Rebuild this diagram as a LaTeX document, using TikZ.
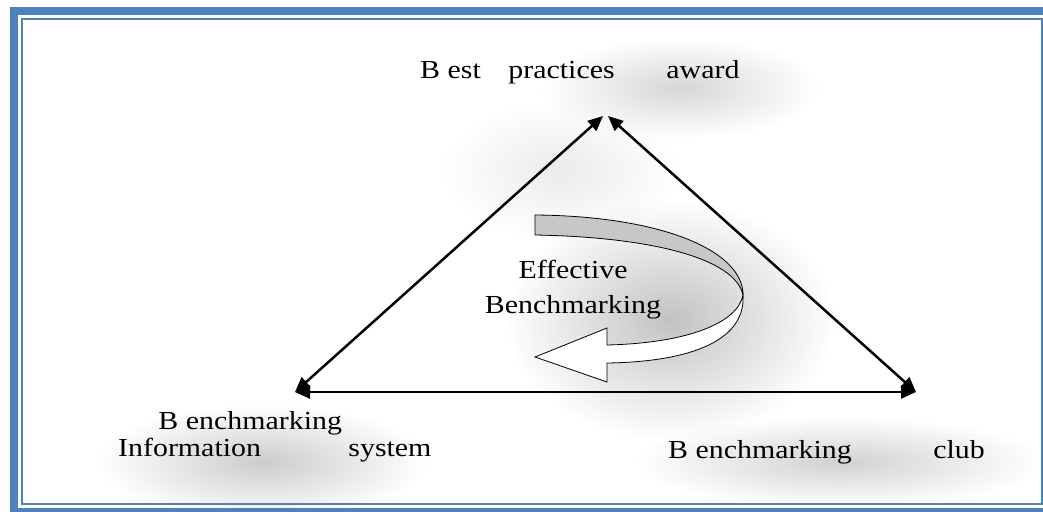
\documentclass[tikz,border=0pt]{standalone}
\usepackage{fontspec}
\setmainfont{Liberation Serif}
\usetikzlibrary{arrows.meta,fadings}
\definecolor{frameblue}{RGB}{79,129,189}
\tikzfading[name=softglow, inner color=transparent!0, outer color=transparent!100]
\newcommand{\wide}[1]{\scalebox{1.15}[1]{#1}}

\begin{document}
\begin{tikzpicture}[x=1pt,y=-1pt,
	>={Triangle[length=15pt,width=13pt]},
	txt/.style={inner sep=0pt, font=\fontsize{26}{27}\selectfont},
	glow/.style={fill=black, fill opacity=#1, path fading=softglow},
	glow/.default=0.16,
	side/.style={line width=2.5pt}]
			\useasboundingbox (0,0) rectangle (1043,511);
			\clip (0,0) rectangle (1043,511);

			% soft shadows
			\fill[glow] (680,88) ellipse [x radius=140, y radius=50];
			\fill[glow=0.24] (670,320) ellipse [x radius=165, y radius=120];
			\fill[glow=0.08] (560,170) ellipse [x radius=120, y radius=70];
			\fill[glow=0.2] (262,462) ellipse [x radius=165, y radius=58];
			\fill[glow=0.18] (840,462) ellipse [x radius=205, y radius=45];

			% frame
			\draw[frameblue, line width=8pt] (14,11) rectangle (1060,512);
			\draw[frameblue, line width=2pt] (22,19) rectangle (1041.5,504);

			\coordinate (topL) at (603,116);
			\coordinate (topR) at (608,116);
			\coordinate (botL) at (295,392);
			\coordinate (botR) at (916,392);

			\node (award) [txt, anchor=base west] at (420,78) {\wide{B est\hspace{24pt}practices\hspace{45pt}award}};
			\node (info) [txt, anchor=north west, align=left] at (118,411) {\wide{\hspace*{35pt}B enchmarking}\\\wide{Information\hspace{76pt}system}};
			\node (club) [txt, anchor=base west] at (668,458) {\wide{B enchmarking\hspace{71pt}club}};
			\node (eff) [txt, anchor=base] at (573,278) {\wide{Effective}};
			\node (bench) [txt, anchor=base] at (573,313) {\wide{Benchmarking}};

			\path (topL) edge [ side, <-> ] (botL);
			\path (topR) edge [ side, <-> ] (botR);
			\path (botL) edge [ side, <-> ] (botR);

			% curved arrow
			\draw[fill=black!22, line width=0.8pt] (535,215) .. controls (660,216) and (743,250) .. (743,295)
				.. controls (735,258) and (650,237) .. (535,235) -- cycle;
			\draw[fill=white, line width=0.8pt] (743,295) .. controls (746,345) and (680,362) .. (607,363)
				-- (607,382) -- (535,357) -- (607,328) -- (607,345)
				.. controls (690,343) and (738,322) .. (743,295) -- cycle;
\end{tikzpicture}
\end{document}
